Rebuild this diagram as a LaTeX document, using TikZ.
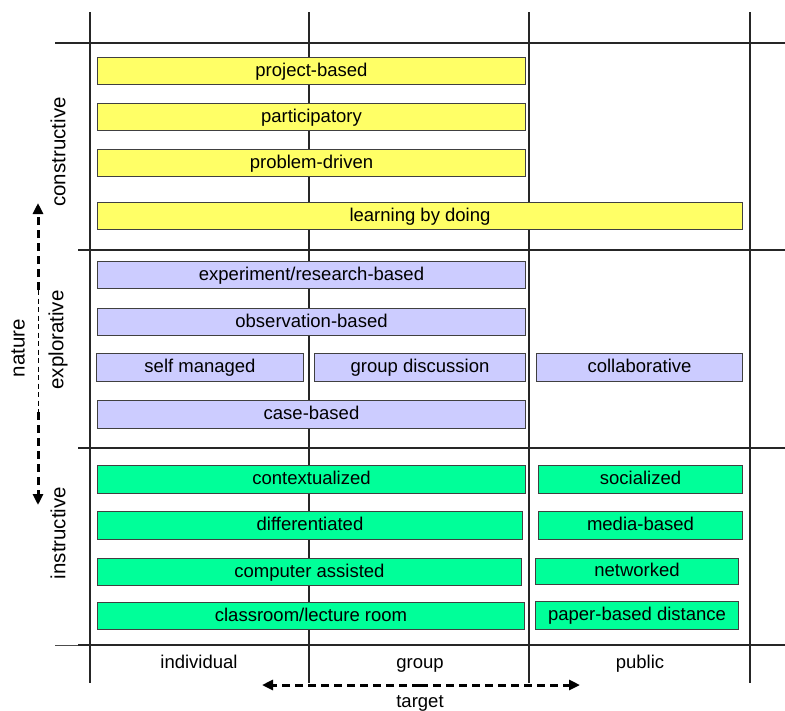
\documentclass[tikz,border=0pt]{standalone}
\usepackage{fontspec}
\setmainfont{Liberation Sans}
\usetikzlibrary{arrows.meta}
\definecolor{cyellow}{RGB}{255,255,102}
\definecolor{cblue}{RGB}{204,204,255}
\definecolor{cgreen}{RGB}{0,255,153}
\definecolor{cedge}{RGB}{64,64,64}
\tikzset{
  box/.style={draw=cedge, line width=1pt, inner sep=0pt, anchor=north west,
    font=\fontsize{18.5}{21}\selectfont, text height=13.5pt, text depth=3.5pt},
  ybox/.style={box, fill=cyellow},
  bbox/.style={box, fill=cblue},
  gbox/.style={box, fill=cgreen},
  grid/.style={line width=1.5pt, black!85},
  axlabel/.style={font=\fontsize{18.5}{21}\selectfont, text height=13.5pt, text depth=3.5pt},
  rowlabel/.style={rotate=90, font=\fontsize{20.5}{23}\selectfont},
  thickdash/.style={line width=3pt, dash pattern=on 8pt off 5pt},
  thindash/.style={line width=0.9pt, dash pattern=on 5pt off 3.5pt},
  tip/.style={-{Triangle[length=11pt,width=10pt]}},
}
\newcommand{\bx}[7]{% style, name, x1, y1, x2, y2, text
  \node[#1, minimum width=#5pt-#3pt, minimum height=#6pt-#4pt] (#2) at (#3,#4) {#7};}
\begin{document}
\begin{tikzpicture}[x=1pt, y=-1pt]
\useasboundingbox (0,0) rectangle (785,710);

% grid
\foreach \gx in {90,309,529,750} \draw[grid] (\gx,12) -- (\gx,683);
\draw[grid] (55,43) -- (785,43);
\draw[grid] (78,250) -- (785,250);
\draw[grid] (78,448) -- (785,448);
\draw[grid] (78,645) -- (785,645);
\draw[line width=0.8pt, black!70] (55,645) -- (78,645);

% constructive
\bx{ybox}{pb}{97}{57}{525}{84}{project-based}
\bx{ybox}{pa}{97}{103}{525}{130}{participatory}
\bx{ybox}{pd}{97}{149}{525}{176}{problem-driven}
\bx{ybox}{lbd}{97}{202}{742}{229}{learning by doing}

% explorative
\bx{bbox}{erb}{97}{261}{525}{288}{experiment/research-based}
\bx{bbox}{ob}{97}{308}{525}{335}{observation-based}
\bx{bbox}{sm}{96}{353}{303}{381}{self managed}
\bx{bbox}{gd}{314}{353}{525}{381}{group discussion}
\bx{bbox}{co}{536}{353}{742}{381}{collaborative}
\bx{bbox}{cb}{97}{400}{525}{428}{case-based}

% instructive
\bx{gbox}{ctx}{97}{465}{525}{493}{contextualized}
\bx{gbox}{dif}{97}{511}{522}{539}{differentiated}
\bx{gbox}{ca}{97}{558}{521}{585}{computer assisted}
\bx{gbox}{clr}{97}{602}{524}{629}{classroom/lecture room}
\bx{gbox}{soc}{538}{465}{742}{493}{socialized}
\bx{gbox}{mb}{538}{511}{742}{539}{media-based}
\bx{gbox}{net}{535}{558}{738}{584}{networked}
\bx{gbox}{pbd}{535}{601}{738}{629}{paper-based distance}

% row labels
\node[rowlabel] (lcon) at (58,152) {constructive};
\node[rowlabel] (lexp) at (58,340) {explorative};
\node[rowlabel] (lins) at (58,533) {instructive};
\node[rowlabel] (lnat) at (18,348) {nature};

% column labels
\node[axlabel] (lind) at (199,663) {individual};
\node[axlabel] (lgrp) at (420,663) {group};
\node[axlabel] (lpub) at (640,663) {public};
\node[axlabel] (ltar) at (420,702) {target};

% nature axis
\coordinate (nt) at (38,203);
\coordinate (nu) at (38,290);
\coordinate (nl) at (38,412);
\coordinate (nb) at (38,505);
\draw[thickdash, tip] (nu) -- (nt);
\draw[thindash] (nu) -- (nl);
\draw[thickdash, tip] (nl) -- (nb);

% target axis
\coordinate (tm) at (420,685);
\coordinate (tl) at (262,685);
\coordinate (tr) at (580,685);
\draw[thickdash, tip] (tm) -- (tl);
\draw[thickdash, tip] (tm) -- (tr);
\end{tikzpicture}
\end{document}
